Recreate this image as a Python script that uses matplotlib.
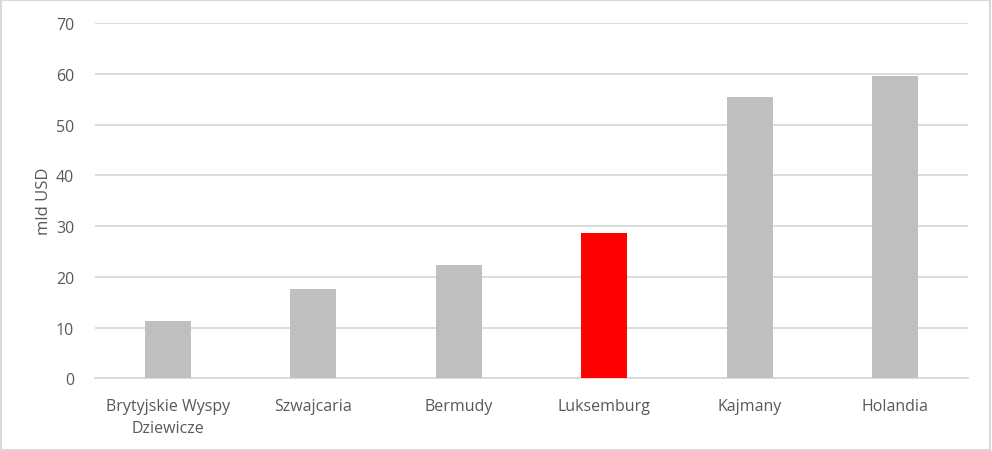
import matplotlib
matplotlib.use("Agg")
import matplotlib.pyplot as plt
from matplotlib.patches import Rectangle
import numpy as np

# data
countries = ["Brytyjskie Wyspy\nDziewicze", "Szwajcaria", "Bermudy",
             "Luksemburg", "Kajmany", "Holandia"]
values = [11.3, 17.6, 22.3, 28.6, 55.4, 59.6]
highlight = "Luksemburg"
y_ticks = [0, 10, 20, 30, 40, 50, 60, 70]

plt.rcParams['font.family'] = ['Open Sans', 'DejaVu Sans']

grid_col = "#d9d9d9"
text_col = "#595959"

fig = plt.figure(figsize=(9.92, 4.52), dpi=100)
ax = fig.add_axes([95 / 992, 1 - 379.3 / 452, 873 / 992, 355.3 / 452])

x = np.arange(len(countries))
colors = ["#ff0000" if c == highlight else "#bfbfbf" for c in countries]
ax.bar(x, values, width=0.315, color=colors, zorder=3)

ax.set_xlim(-0.5, len(countries) - 0.5)
ax.set_ylim(0, 70)
ax.set_yticks(y_ticks)
ax.set_xticks(x)
ax.set_xticklabels(countries, fontsize=11.5, color=text_col, linespacing=1.55)
ax.tick_params(axis="y", labelsize=11.5, labelcolor=text_col, length=0, pad=15)
ax.tick_params(axis="x", length=0, pad=14)
ax.grid(axis="y", color=grid_col, linewidth=1.3, zorder=0)
for s in ["top", "right", "left"]:
    ax.spines[s].set_visible(False)
ax.spines["bottom"].set_color(grid_col)
ax.spines["bottom"].set_linewidth(1.3)

ax.set_ylabel("mld USD", fontsize=12, color=text_col, labelpad=3)

# light frame round the whole chart
fig.patches.append(Rectangle((0.001, 0.002), 0.997, 0.995, transform=fig.transFigure,
                             fill=False, edgecolor=grid_col, linewidth=1.5))

fig.savefig("out.png", dpi=100)
